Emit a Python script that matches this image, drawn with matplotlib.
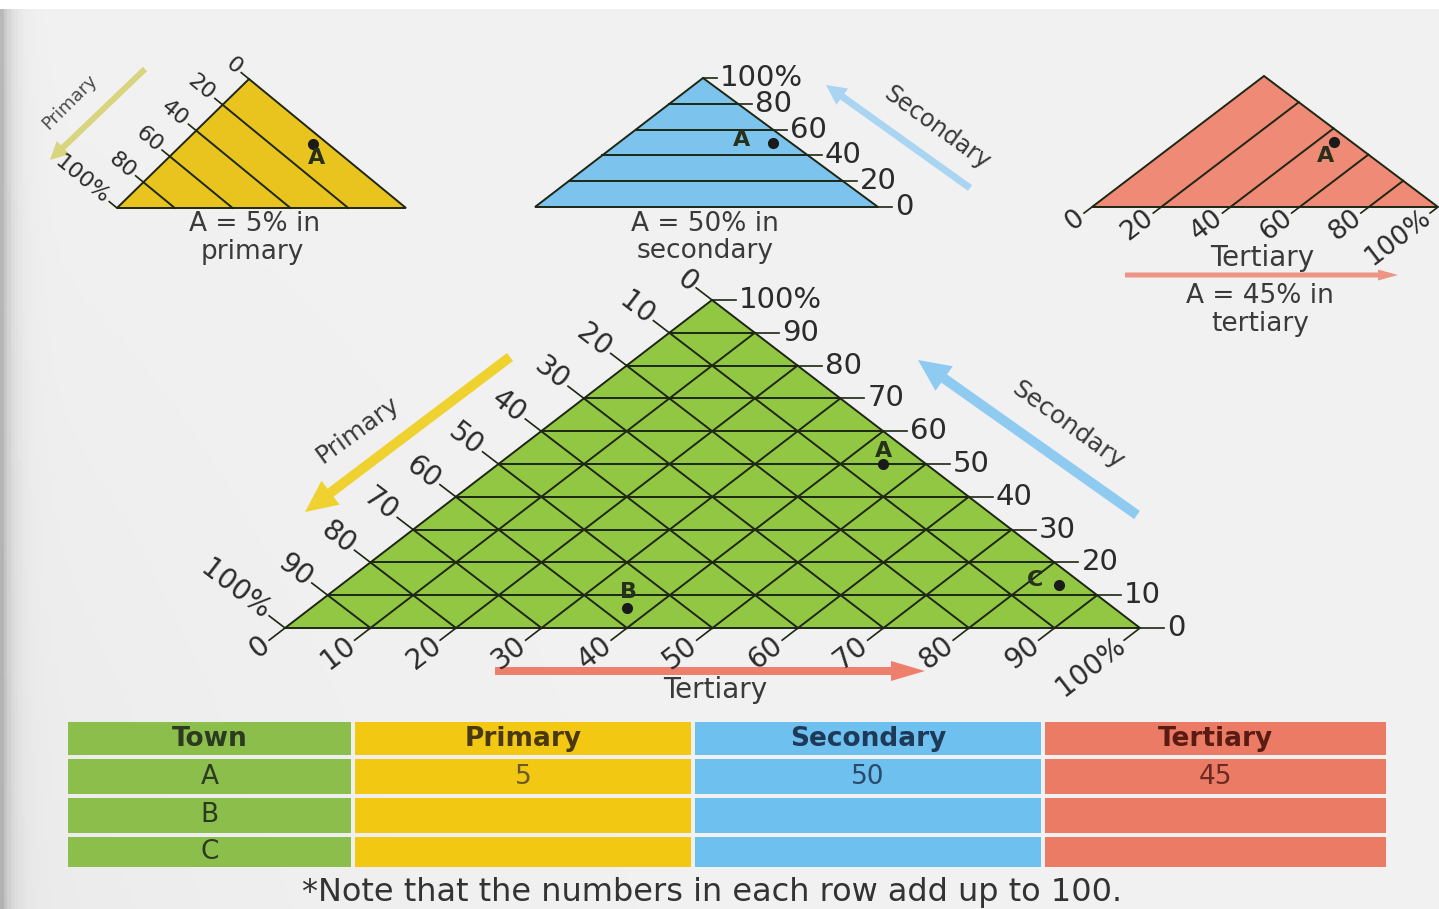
import numpy as np
import matplotlib.pyplot as plt
from matplotlib.patches import Polygon, Rectangle

plt.rcParams['font.family'] = ['DejaVu Sans']

# ---- data ----
towns = ['A', 'B', 'C']
primary = [5, 57, 3]        # % in primary (read from main triangle)
secondary = [50, 6, 13]     # % in secondary
tertiary = [45, 37, 84]     # % in tertiary

main_ticks = [0, 10, 20, 30, 40, 50, 60, 70, 80, 90, 100]
main_tick_labels = ['0', '10', '20', '30', '40', '50', '60', '70', '80', '90', '100%']
small_ticks = [0, 20, 40, 60, 80, 100]
small_tick_labels = ['0', '20', '40', '60', '80', '100%']

table_header = ['Town', 'Primary', 'Secondary', 'Tertiary']
table_primary = ['5', '', '']
table_secondary = ['50', '', '']
table_tertiary = ['45', '', '']

# ---- layout (pixel space) ----
W, H = 1439, 909
MAIN = ((285, 628), (712, 300), (1140, 628))      # bottom-left, apex, bottom-right
YEL = ((117, 208), (249, 79), (406, 208))
BLU = ((535, 207), (703, 78), (878, 207))
RED = ((1092, 207), (1264, 76), (1438, 207))

GREEN, YELLOW, BLUE, SALMON = '#92c744', '#e9c41e', '#7cc3ee', '#ee8a75'
LINE = '#1e2614'
TXT = '#2b2b2b'

fig = plt.figure(figsize=(W / 100, H / 100), dpi=100)
ax = fig.add_axes([0, 0, 1, 1])
ax.set_xlim(0, W)
ax.set_ylim(H, 0)
ax.axis('off')

# paper background, a bit darker at the left edge
xx = np.linspace(0, W, 400)
yy = np.linspace(0, H, 200)
X, Y = np.meshgrid(xx, yy)
bg = 0.945 - 0.22 * np.exp(-X / 10.0) - 0.03 * (Y / H) * np.exp(-X / 300.0)
bg[Y < 7] = 1.0
ax.imshow(bg, cmap='gray', vmin=0, vmax=1, extent=[0, W, H, 0], zorder=0, aspect='auto')


def tern(v, p, s, t):
    bl, ap, br = v
    return (p * bl[0] + s * ap[0] + t * br[0], p * bl[1] + s * ap[1] + t * br[1])


def unit(a, b):
    d = np.array(b, float) - np.array(a, float)
    return d / np.hypot(*d)


def triangle(v, color):
    ax.add_patch(Polygon(v, closed=True, fc=color, ec=LINE, lw=1.4, zorder=2))


def grid(v, which, levels, lw=1.4):
    for f in levels:
        if which == 'p':
            a, b = tern(v, f, 1 - f, 0), tern(v, f, 0, 1 - f)
        elif which == 's':
            a, b = tern(v, 1 - f, f, 0), tern(v, 0, f, 1 - f)
        else:
            a, b = tern(v, 0, 1 - f, f), tern(v, 1 - f, 0, f)
        ax.plot([a[0], b[0]], [a[1], b[1]], color=LINE, lw=lw, zorder=3)


def ticks(v, which, vals, labels, L, fs):
    bl, ap, br = v
    for val, lab in zip(vals, labels):
        f = val / 100
        if which == 'p':
            pt = tern(v, f, 1 - f, 0)
            d = unit(br, ap)
        elif which == 's':
            pt = tern(v, 0, f, 1 - f)
            d = np.array([1.0, 0.0])
        else:
            pt = tern(v, 1 - f, 0, f)
            d = unit(ap, bl)
        end = (pt[0] + L * d[0], pt[1] + L * d[1])
        ax.plot([pt[0], end[0]], [pt[1], end[1]], color=LINE, lw=1.2, zorder=3)
        if which == 's':
            ax.text(end[0] + 3, end[1], lab, ha='left', va='center',
                    fontsize=fs, color=TXT, zorder=4)
        else:
            r = -d
            rot = np.degrees(np.arctan2(-r[1], r[0]))
            ax.text(end[0] - 3 * r[0], end[1] - 3 * r[1], lab, ha='right', va='center',
                    rotation=rot, rotation_mode='anchor', fontsize=fs, color=TXT, zorder=4)


def point(v, i, label, off):
    x, y = tern(v, primary[i] / 100, secondary[i] / 100, tertiary[i] / 100)
    ax.plot(x, y, 'o', ms=7, color='#1a1a1a', zorder=5)
    ax.text(x + off[0], y + off[1], label, ha='center', va='center', fontsize=16,
            fontweight='bold', color='#26301a', zorder=5)


# ---- small triangles ----
triangle(YEL, YELLOW)
grid(YEL, 'p', [0.2, 0.4, 0.6, 0.8])
ticks(YEL, 'p', small_ticks, small_tick_labels, 10, 16)
point(YEL, 0, 'A', (3, 15))

triangle(BLU, BLUE)
grid(BLU, 's', [0.2, 0.4, 0.6, 0.8])
ticks(BLU, 's', small_ticks, small_tick_labels, 14, 21)
point(BLU, 0, 'A', (-32, -3))

triangle(RED, SALMON)
grid(RED, 't', [0.2, 0.4, 0.6, 0.8])
ticks(RED, 't', small_ticks, small_tick_labels, 10, 19)
point(RED, 0, 'A', (-8, 14))

# ---- main triangle ----
triangle(MAIN, GREEN)
lv = [k / 10 for k in range(1, 10)]
for w in ('p', 's', 't'):
    grid(MAIN, w, lv)
ticks(MAIN, 'p', main_ticks, main_tick_labels, 20, 20)
ticks(MAIN, 's', main_ticks, main_tick_labels, 24, 21)
ticks(MAIN, 't', main_ticks, main_tick_labels, 20, 20)
point(MAIN, 0, 'A', (0, -13))
point(MAIN, 1, 'B', (2, -16))
point(MAIN, 2, 'C', (-24, -5))

# ---- arrows and axis names ----
def arrow(x0, y0, x1, y1, color, w, hw, hl):
    ax.arrow(x0, y0, x1 - x0, y1 - y0, width=w, head_width=hw, head_length=hl,
             length_includes_head=True, fc=color, ec='none', zorder=2)


arrow(145, 69, 50, 160, '#d9d47e', 6, 18, 18)
arrow(970, 188, 826, 85, '#a9d5f2', 7, 20, 20)
arrow(1125, 275, 1398, 275, '#ee9484', 5, 11, 20)
arrow(510, 357, 305, 512, '#efd22f', 10, 30, 32)
arrow(1137, 515, 918, 360, '#8fcbf1', 10, 30, 32)
arrow(495, 671, 925, 671, '#ee7f6c', 8, 20, 34)

ax.text(70, 102, 'Primary', rotation=45, ha='center', va='center', fontsize=13, color='#4a4a4a')
ax.text(937, 128, 'Secondary', rotation=-36, ha='center', va='center', fontsize=17, color='#3a3a3a')
ax.text(1262, 258, 'Tertiary', ha='center', va='center', fontsize=20, color='#3a3a3a')
ax.text(358, 430, 'Primary', rotation=36, ha='center', va='center', fontsize=18, color='#3a3a3a')
ax.text(1068, 425, 'Secondary', rotation=-36, ha='center', va='center', fontsize=18, color='#3a3a3a')
ax.text(715, 690, 'Tertiary', ha='center', va='center', fontsize=20, color='#3a3a3a')

captions = [((255, 224), 'A = 5% in'), ((252, 252), 'primary'),
            ((705, 224), 'A = 50% in'), ((705, 251), 'secondary'),
            ((1260, 296), 'A = 45% in'), ((1260, 324), 'tertiary')]
for (cx, cy), s in captions:
    ax.text(cx, cy, s, ha='center', va='center', fontsize=19, color='#3a3a3a')

# ---- table ----
col_edges = [68, 355, 695, 1045, 1390]
row_edges = [722, 759, 798, 837, 871]
col_colors = ['#8cbe4c', '#f2c812', '#6ec0ee', '#ec7b66']
head_colors = ['#2c3a20', '#4a3810', '#1e3a58', '#5a1c12']
body_colors = ['#2c3a20', '#6a5a2a', '#2a4a6a', '#6a2a22']
cols = [towns, table_primary, table_secondary, table_tertiary]
gap = 4
for c in range(4):
    x0, x1 = col_edges[c], col_edges[c + 1]
    for r in range(4):
        y0, y1 = row_edges[r], row_edges[r + 1]
        ax.add_patch(Rectangle((x0, y0), x1 - x0 - gap, y1 - y0 - gap,
                               fc=col_colors[c], ec='none', zorder=2))
        if r == 0:
            s, fw, col = table_header[c], 'bold', head_colors[c]
        else:
            s, fw, col = cols[c][r - 1], 'normal', body_colors[c]
        ax.text((x0 + x1 - gap) / 2, (y0 + y1 - gap) / 2, s, ha='center', va='center',
                fontsize=19, fontweight=fw, color=col, zorder=3)

ax.text(712, 892, '*Note that the numbers in each row add up to 100.', ha='center',
        va='center', fontsize=23, color='#333333')

fig.savefig('out.png', dpi=100)
